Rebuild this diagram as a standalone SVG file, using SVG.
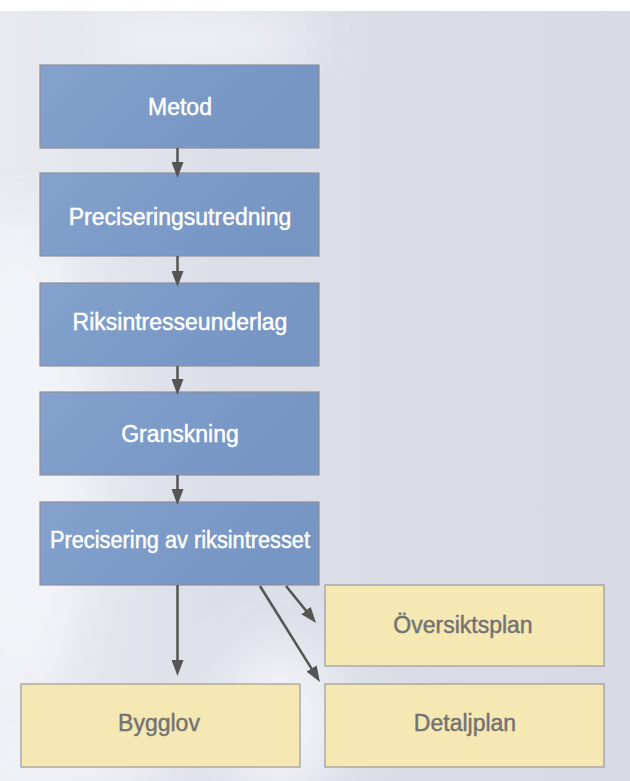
<svg xmlns="http://www.w3.org/2000/svg" width="630" height="781" viewBox="0 0 630 781">
  <defs>
    <linearGradient id="bgGrad" x1="0" y1="0" x2="1" y2="0">
      <stop offset="0" stop-color="#e8eaf0"/>
      <stop offset="0.35" stop-color="#dcdfe8"/>
      <stop offset="1" stop-color="#d7dae5"/>
    </linearGradient>
    <linearGradient id="blueGrad" x1="0" y1="0" x2="1" y2="0.3">
      <stop offset="0" stop-color="#84a2cd"/>
      <stop offset="0.5" stop-color="#7d9bc8"/>
      <stop offset="1" stop-color="#7795c3"/>
    </linearGradient>
    <filter id="blur" x="-50%" y="-50%" width="200%" height="200%">
      <feGaussianBlur stdDeviation="28"/>
    </filter>
    <marker id="arrow" markerUnits="userSpaceOnUse" markerWidth="16" markerHeight="12" refX="11" refY="6" orient="auto">
      <path d="M0,0 L16,6 L0,12 z" fill="#555555"/>
    </marker>
  </defs>
  <style>
    .blue { fill: url(#blueGrad); stroke: #8a8f99; stroke-width: 1.2; }
    .yellow { fill: #f5e8b2; stroke: #9a9a9a; stroke-width: 1.2; }
    .wt { font-family: "Liberation Sans", Arial, Helvetica, sans-serif; font-size: 23px; fill: #ffffff; stroke: #ffffff; stroke-width: 0.45; text-anchor: middle; }
    .gt { font-family: "Liberation Sans", Arial, Helvetica, sans-serif; font-size: 23px; fill: #737373; stroke: #737373; stroke-width: 0.45; text-anchor: middle; }
    .conn { stroke: #555555; stroke-width: 2.5; fill: none; marker-end: url(#arrow); }
  </style>

  <!-- background -->
  <rect x="0" y="0" width="630" height="781" fill="url(#bgGrad)"/>
  <g filter="url(#blur)" fill="#f4f5f9" opacity="0.9">
    <ellipse cx="20" cy="460" rx="75" ry="250"/>
    <ellipse cx="200" cy="40" rx="120" ry="30"/>
    <ellipse cx="280" cy="720" rx="60" ry="80"/>
    <ellipse cx="60" cy="760" rx="120" ry="30"/>
  </g>
  <rect x="0" y="0" width="630" height="11" fill="#ffffff"/>

  <!-- nodes -->
  <g id="metod">
    <rect class="blue" x="40" y="65" width="279" height="83"/>
    <text class="wt" x="180" y="115">Metod</text>
  </g>
  <g id="preciseringsutredning">
    <rect class="blue" x="40" y="173" width="279" height="83"/>
    <text class="wt" x="180" y="225">Preciseringsutredning</text>
  </g>
  <g id="riksintresseunderlag">
    <rect class="blue" x="40" y="283" width="279" height="83"/>
    <text class="wt" x="180" y="330">Riksintresseunderlag</text>
  </g>
  <g id="granskning">
    <rect class="blue" x="40" y="392" width="279" height="83"/>
    <text class="wt" x="180" y="442">Granskning</text>
  </g>
  <g id="precisering">
    <rect class="blue" x="40" y="502" width="279" height="83"/>
    <text class="wt" x="180" y="548" textLength="260" lengthAdjust="spacingAndGlyphs">Precisering av riksintresset</text>
  </g>
  <g id="oversiktsplan">
    <rect class="yellow" x="325" y="585" width="279" height="81"/>
    <text class="gt" x="463" y="633">Översiktsplan</text>
  </g>
  <g id="bygglov">
    <rect class="yellow" x="21" y="684" width="279" height="83"/>
    <text class="gt" x="159" y="731">Bygglov</text>
  </g>
  <g id="detaljplan">
    <rect class="yellow" x="325" y="684" width="279" height="83"/>
    <text class="gt" x="465" y="731">Detaljplan</text>
  </g>

  <!-- connectors -->
  <g id="connectors">
    <line class="conn" x1="177.5" y1="148" x2="177.5" y2="173"/>
    <line class="conn" x1="177.5" y1="256" x2="177.5" y2="282"/>
    <line class="conn" x1="177.5" y1="366" x2="177.5" y2="390"/>
    <line class="conn" x1="177.5" y1="475" x2="177.5" y2="500"/>
    <line class="conn" x1="177.5" y1="585" x2="177.5" y2="671"/>
    <line class="conn" x1="286" y1="586" x2="312.9" y2="619.1"/>
    <line class="conn" x1="260" y1="586" x2="317.3" y2="677.8"/>
  </g>
</svg>
